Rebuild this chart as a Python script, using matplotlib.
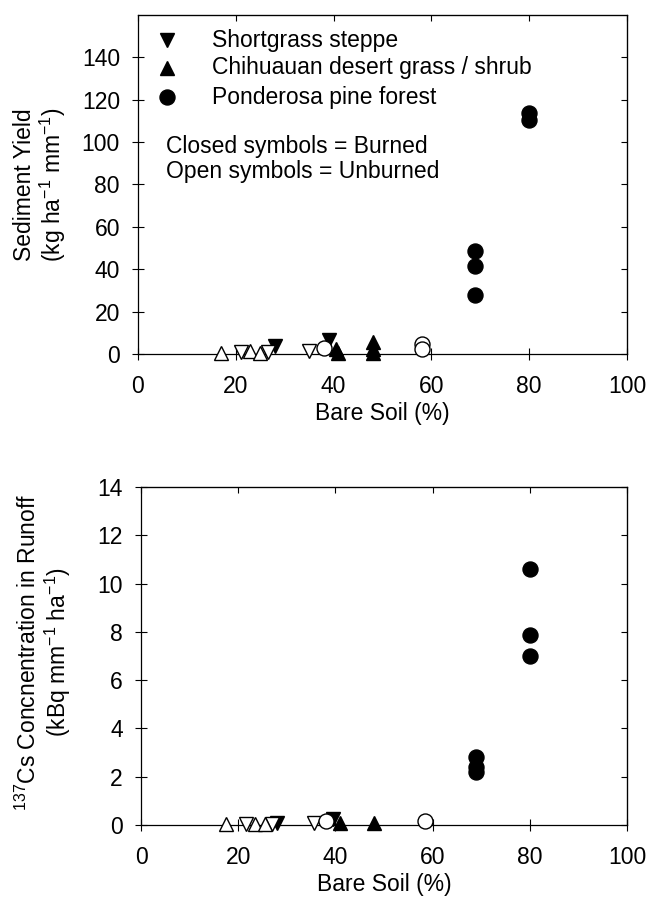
import matplotlib
matplotlib.use("Agg")
import matplotlib.pyplot as plt

plt.rcParams['font.family'] = ['Liberation Sans', 'DejaVu Sans']
plt.rcParams['mathtext.fontset'] = 'custom'
plt.rcParams['mathtext.rm'] = 'Liberation Sans'
plt.rcParams['mathtext.it'] = 'Liberation Sans'
plt.rcParams['mathtext.default'] = 'regular'

# top panel: sediment yield (kg ha-1 mm-1)
sed_sg_burn_x = [28, 39]
sed_sg_burn_y = [3.8, 6.5]
sed_sg_unb_x = [21, 26.5, 35]
sed_sg_unb_y = [1.0, 1.0, 1.2]
sed_ch_burn_x = [40.5, 41, 48, 48, 48]
sed_ch_burn_y = [2.5, 0.5, 5.5, 2.5, 0.5]
sed_ch_unb_x = [17, 23, 25]
sed_ch_unb_y = [0.5, 1.5, 0.5]
sed_pp_burn_x = [69, 69, 69, 80, 80]
sed_pp_burn_y = [48.5, 41.5, 28, 113.5, 110.5]
sed_pp_unb_x = [38, 58, 58]
sed_pp_unb_y = [3, 4.5, 2.5]

# bottom panel: 137Cs concentration (kBq mm-1 ha-1)
cs_sg_burn_x = [28, 39.5]
cs_sg_burn_y = [0.1, 0.25]
cs_sg_unb_x = [21.5, 27, 35.5]
cs_sg_unb_y = [0.05, 0.05, 0.1]
cs_ch_burn_x = [41, 48]
cs_ch_burn_y = [0.1, 0.1]
cs_ch_unb_x = [17.5, 23.5, 25.5]
cs_ch_unb_y = [0.05, 0.05, 0.05]
cs_pp_burn_x = [69, 69, 69, 80, 80, 80]
cs_pp_burn_y = [2.8, 2.4, 2.2, 10.6, 7.85, 7.0]
cs_pp_unb_x = [38, 58.5]
cs_pp_unb_y = [0.15, 0.15]

legend_names = ['Shortgrass steppe', 'Chihuauan desert grass / shrub', 'Ponderosa pine forest']
legend_markers = ['v', '^', 'o']

FS = 16.5


def pts(ax, x, y, marker, filled):
    ax.plot(x, y, ls='none', marker=marker, ms=10.8 if marker == 'o' else 10.5,
            mfc='black' if filled else 'white', mec='black', mew=1.0,
            clip_on=False, zorder=3)


def style(ax, ymax, ystep, ytop):
    ax.set_xlim(0, 100)
    ax.set_ylim(0, ytop)
    ax.set_xticks(range(0, 101, 20))
    ax.set_yticks([v * ystep for v in range(int(ymax / ystep) + 1)])
    ax.tick_params(direction='inout', length=8, width=0.8, labelsize=FS,
                   colors='black')
    ax.tick_params(axis='y', pad=9)
    ax.tick_params(axis='x', pad=11)
    for s in ax.spines.values():
        s.set_linewidth(0.9)
    sx = ax.secondary_xaxis('top')
    sx.set_xticks(range(0, 101, 20))
    sx.tick_params(direction='in', length=4, labeltop=False)
    sy = ax.secondary_yaxis('right')
    sy.set_yticks(ax.get_yticks())
    sy.tick_params(direction='in', length=4, labelright=False)
    ax.set_xlabel('Bare Soil (%)', fontsize=FS, labelpad=3)


fig = plt.figure(figsize=(6.49, 9.07), dpi=100)
ax1 = fig.add_axes([0.2126, 0.6097, 0.7535, 0.3738])
ax2 = fig.add_axes([0.2173, 0.0904, 0.7488, 0.3727])

for ax, d in [(ax1, [(sed_sg_burn_x, sed_sg_burn_y, 'v', True),
                     (sed_sg_unb_x, sed_sg_unb_y, 'v', False),
                     (sed_ch_burn_x, sed_ch_burn_y, '^', True),
                     (sed_ch_unb_x, sed_ch_unb_y, '^', False),
                     (sed_pp_burn_x, sed_pp_burn_y, 'o', True),
                     (sed_pp_unb_x, sed_pp_unb_y, 'o', False)]),
              (ax2, [(cs_sg_burn_x, cs_sg_burn_y, 'v', True),
                     (cs_sg_unb_x, cs_sg_unb_y, 'v', False),
                     (cs_ch_burn_x, cs_ch_burn_y, '^', True),
                     (cs_ch_unb_x, cs_ch_unb_y, '^', False),
                     (cs_pp_burn_x, cs_pp_burn_y, 'o', True),
                     (cs_pp_unb_x, cs_pp_unb_y, 'o', False)])]:
    for x, y, m, f in d:
        pts(ax, x, y, m, f)

style(ax1, 140, 20, 160)
style(ax2, 14, 2, 14)

ax1.set_ylabel('Sediment Yield\n(kg ha$^{-1}$ mm$^{-1}$)', fontsize=FS,
               linespacing=1.1)
ax1.yaxis.set_label_coords(-0.143, 0.5)
ax2.set_ylabel('$^{137}$Cs Concnentration in Runoff\n(kBq mm$^{-1}$ ha$^{-1}$)',
               fontsize=FS, linespacing=1.1)
ax2.yaxis.set_label_coords(-0.14, 0.51)

# legend drawn as marker + text rows
for yy, name, m in zip([0.926, 0.844, 0.758], legend_names, legend_markers):
    ax1.plot([0.059], [yy], transform=ax1.transAxes, ls='none', marker=m,
             ms=10.8 if m == 'o' else 10.5, color='black')
    ax1.text(0.151, yy, name, transform=ax1.transAxes, fontsize=FS,
             va='center', ha='left')
ax1.text(0.058, 0.611, 'Closed symbols = Burned', transform=ax1.transAxes,
         fontsize=FS, va='center', ha='left')
ax1.text(0.058, 0.537, 'Open symbols = Unburned', transform=ax1.transAxes,
         fontsize=FS, va='center', ha='left')

fig.savefig('out.png', dpi=100)
